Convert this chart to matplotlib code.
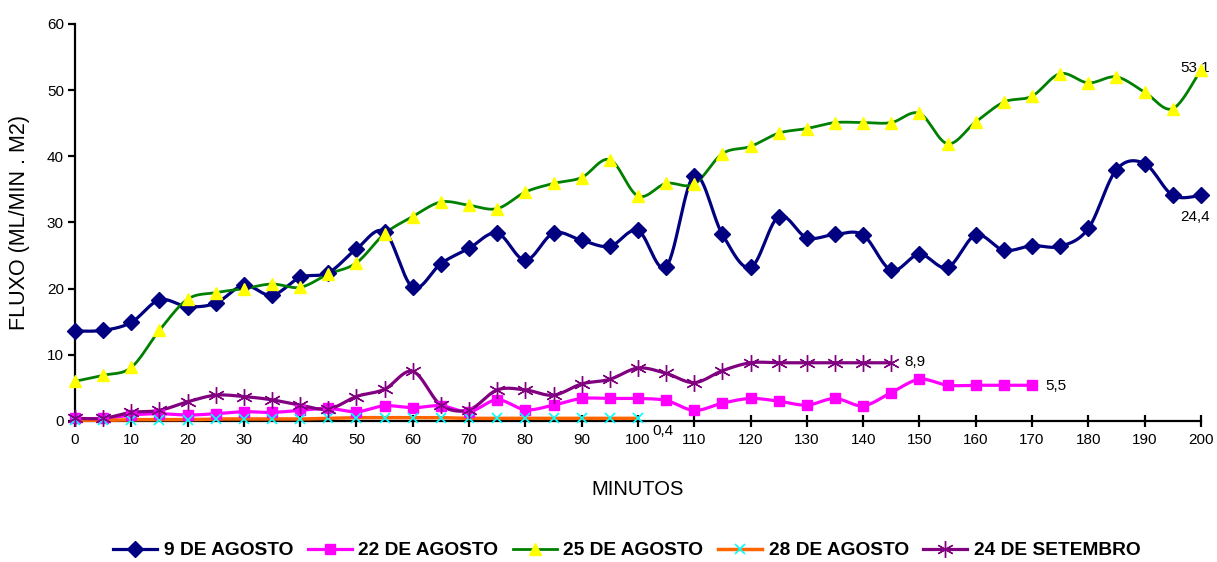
import numpy as np
import matplotlib
matplotlib.use("Agg")
import matplotlib.pyplot as plt
from matplotlib.lines import Line2D

plt.rcParams['font.family'] = ['Liberation Sans', 'DejaVu Sans']

minutes = list(range(0, 205, 5))

ago09 = [13.6, 13.7, 14.9, 18.3, 17.3, 17.8, 20.5, 19.0, 21.7, 22.4, 26.0, 28.6,
         20.2, 23.8, 26.1, 28.4, 24.3, 28.4, 27.3, 26.4, 28.8, 23.3, 37.1, 28.2,
         23.2, 30.9, 27.7, 28.2, 28.1, 22.8, 25.2, 23.2, 28.1, 25.8, 26.5, 26.4,
         29.1, 38.0, 38.9, 34.1, 34.1]

ago22 = [0.4, 0.4, 0.9, 1.1, 0.9, 1.1, 1.4, 1.3, 1.6, 1.9, 1.4, 2.3,
         2.0, 2.3, 1.4, 3.2, 1.7, 2.4, 3.4, 3.4, 3.4, 3.1, 1.6, 2.7,
         3.4, 3.0, 2.4, 3.4, 2.3, 4.3, 6.3, 5.4, 5.4, 5.4, 5.4]

ago25 = [6.0, 6.9, 8.1, 13.7, 18.4, 19.4, 20.0, 20.7, 20.2, 22.2, 23.9, 28.3,
         30.9, 33.1, 32.6, 32.1, 34.6, 35.9, 36.8, 39.5, 34.0, 35.9, 35.8, 40.4,
         41.5, 43.5, 44.2, 45.1, 45.1, 45.1, 46.5, 41.9, 45.2, 48.2, 49.1, 52.5,
         51.1, 52.0, 49.7, 47.2, 53.1]

ago28 = [0.1, 0.1, 0.2, 0.2, 0.2, 0.3, 0.3, 0.3, 0.3, 0.4, 0.5, 0.5,
         0.5, 0.5, 0.4, 0.4, 0.4, 0.4, 0.4, 0.4, 0.4]

set24 = [0.4, 0.4, 1.3, 1.6, 2.9, 3.9, 3.7, 3.2, 2.4, 1.8, 3.7, 4.8,
         7.5, 2.4, 1.7, 4.7, 4.7, 3.9, 5.6, 6.3, 8.0, 7.2, 5.8, 7.6,
         8.8, 8.8, 8.8, 8.8, 8.8, 8.8]

labels = ['9 DE AGOSTO', '22 DE AGOSTO', '25 DE AGOSTO', '28 DE AGOSTO', '24 DE SETEMBRO']

end_labels = [('53,1', 196.3, 53.3), ('24,4', 196.3, 30.8), ('8,9', 147.3, 8.9),
              ('5,5', 172.3, 5.3), ('0,4', 102.6, -1.5)]


def smooth(x, y, n=14):
    P = np.column_stack([np.asarray(x, float), np.asarray(y, float)])
    out = []
    for i in range(len(P) - 1):
        p0 = P[i - 1] if i > 0 else P[i]
        p1 = P[i]
        p2 = P[i + 1]
        p3 = P[i + 2] if i + 2 < len(P) else P[i + 1]
        c1 = p1 + (p2 - p0) / 6.0
        c2 = p2 - (p3 - p1) / 6.0
        t = np.linspace(0, 1, n, endpoint=False)[:, None]
        out.append((1 - t) ** 3 * p1 + 3 * (1 - t) ** 2 * t * c1
                   + 3 * (1 - t) * t ** 2 * c2 + t ** 3 * p2)
    out.append(P[-1:])
    return np.vstack(out)


fig = plt.figure(figsize=(12.17, 5.62), dpi=100)
ax = fig.add_axes([0.0616, 0.2509, 0.9252, 0.7064])

series = [
    (ago09, dict(color='#000080', lw=2.3), dict(marker='D', ms=8.5, mfc='#000080', mec='#000080')),
    (ago22, dict(color='#FF00FF', lw=2.3), dict(marker='s', ms=7, mfc='#FF00FF', mec='#FF00FF')),
    (ago25, dict(color='#008000', lw=2.0), dict(marker='^', ms=8, mfc='#FFFF00', mec='#FFFF00')),
    (ago28, dict(color='#FF6600', lw=2.5), dict(marker='x', ms=6.5, mfc='#00FFFF', mec='#00FFFF', mew=1.2)),
    (set24, dict(color='#800080', lw=2.3), dict(marker=(6, 2, 0), ms=12, mfc='#800080', mec='#800080', mew=1.0)),
]

handles = []
for i, (vals, lstyle, mstyle) in enumerate(series):
    xs = minutes[:len(vals)]
    c = smooth(xs, vals)
    ax.plot(c[:, 0], c[:, 1], zorder=2 + i * 0.1, clip_on=False, solid_capstyle='round', **lstyle)
    ax.plot(xs, vals, ls='none', zorder=3 + i * 0.1, clip_on=False, **mstyle)
    handles.append(Line2D([0], [0], **lstyle, **mstyle))

for txt, x, y in end_labels:
    ax.text(x, y, txt, fontsize=11, ha='left', va='center', color='#000000')

ax.set_xlim(0, 200)
ax.set_ylim(0, 60)
ax.set_xticks(range(0, 201, 10))
ax.set_yticks(range(0, 61, 10))
ax.spines['top'].set_visible(False)
ax.spines['right'].set_visible(False)
ax.spines['left'].set_linewidth(1.6)
ax.spines['bottom'].set_linewidth(1.6)
ax.spines['bottom'].set_zorder(1)
ax.tick_params(axis='x', direction='inout', length=9, width=1.6, labelsize=11, pad=4)
ax.tick_params(axis='y', direction='out', length=5, width=1.6, labelsize=11, pad=3)

ax.set_xlabel('MINUTOS', fontsize=14.5, labelpad=24)
ax.set_ylabel('FLUXO (ML/MIN . M2)', fontsize=15.5, labelpad=12)

fig.legend(handles=handles, labels=labels, loc='lower center', ncol=5, frameon=False,
           bbox_to_anchor=(0.515, -0.026), handlelength=2.3, columnspacing=0.75,
           handletextpad=0.35, prop={'family': ['Liberation Sans'],
                                     'weight': 'bold', 'size': 13.8})

fig.savefig('out.png', dpi=100)
